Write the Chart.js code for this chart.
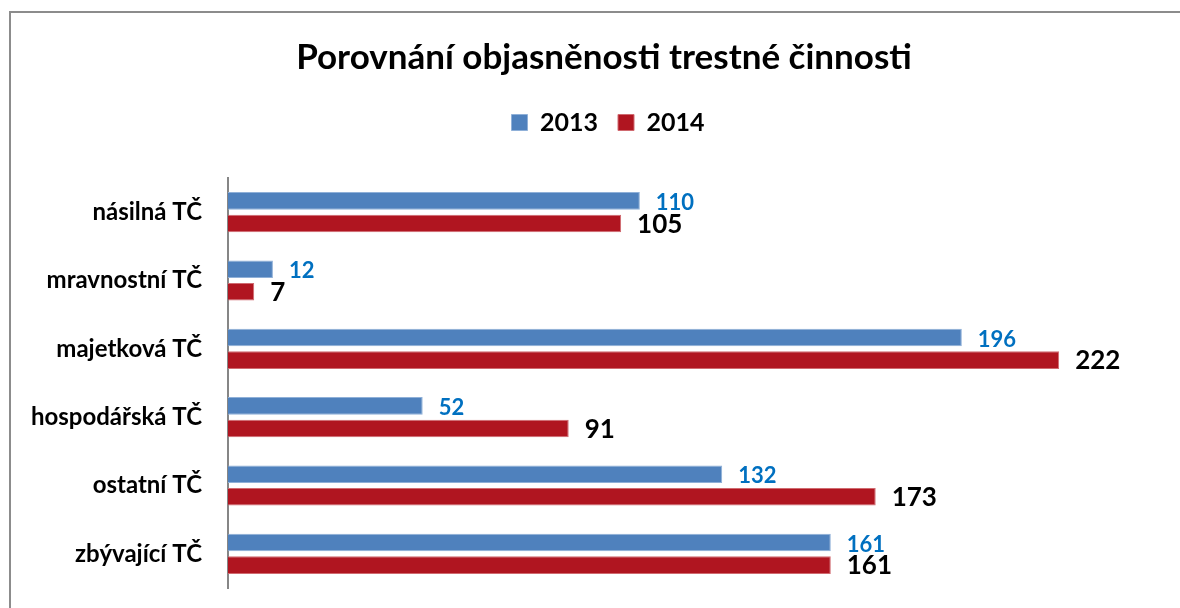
<!DOCTYPE html>
<html>
<head>
<meta charset="utf-8">
<script src="https://cdn.jsdelivr.net/npm/chart.js@4.4.1/dist/chart.umd.min.js"></script>
<style>
  html, body { margin: 0; padding: 0; background: #fff; }
  #wrap { position: relative; width: 1180px; height: 608px; }
</style>
</head>
<body>
<div id="wrap"><canvas id="c" width="1180" height="608"></canvas></div>
<script>
const categories = ['násilná TČ', 'mravnostní TČ', 'majetková TČ', 'hospodářská TČ', 'ostatní TČ', 'zbývající TČ'];
const seriesNames = ['2013', '2014'];
const values2013 = [110, 12, 196, 52, 132, 161];
const values2014 = [105, 7, 222, 91, 173, 161];
const chartTitle = 'Porovnání objasněnosti trestné činnosti';

const FONT = 'Lato, "Open Sans", sans-serif';

const frame = {
  id: 'frame',
  beforeDraw(chart) {
    const ctx = chart.ctx;
    ctx.save();
    ctx.fillStyle = '#fff';
    ctx.fillRect(0, 0, chart.width, chart.height);
    ctx.strokeStyle = '#8c8c8c';
    ctx.lineWidth = 2;
    ctx.beginPath();
    ctx.moveTo(10, chart.height + 5);
    ctx.lineTo(10, 12);
    ctx.lineTo(chart.width + 5, 12);
    ctx.stroke();
    ctx.restore();
  }
};

// extra space below the legend
const legendGap = {
  id: 'legendGap',
  beforeLayout(chart) {
    const lg = chart.legend;
    if (lg && !lg._gapPatched) {
      const orig = lg.fit;
      lg.fit = function () { orig.call(this); this.height += 33; };
      lg._gapPatched = true;
    }
  },
  afterLayout(chart) {
    // the original frame extends past the right edge, so centre title/legend on it
    const t = chart.titleBlock;
    if (t) { t.left += 16; t.right += 16; }
    const lg = chart.legend;
    if (lg) { lg.left += 20; lg.right += 20; }
  }
};

const valueLabels = {
  id: 'valueLabels',
  afterDatasetsDraw(chart) {
    const ctx = chart.ctx;
    const styles = [
      { color: '#0070C0', size: 22, dy: 2 },
      { color: '#000000', size: 26, dy: 1 }
    ];
    chart.data.datasets.forEach((ds, i) => {
      const meta = chart.getDatasetMeta(i);
      const st = styles[i];
      ctx.save();
      ctx.font = 'bold ' + st.size + 'px ' + FONT;
      ctx.fillStyle = st.color;
      ctx.textAlign = 'left';
      ctx.textBaseline = 'middle';
      meta.data.forEach((el, j) => {
        ctx.fillText(String(ds.data[j]), el.x + 16, el.y + st.dy);
      });
      ctx.restore();
    });
  }
};

new Chart(document.getElementById('c'), {
  type: 'bar',
  data: {
    labels: categories,
    datasets: [
      {
        label: seriesNames[0],
        data: values2013,
        backgroundColor: '#4F81BD',
        borderColor: '#8fb0d8',
        borderWidth: 1,
        categoryPercentage: 0.66,
        barPercentage: 0.78
      },
      {
        label: seriesNames[1],
        data: values2014,
        backgroundColor: '#B01520',
        borderColor: '#d06a70',
        borderWidth: 1,
        categoryPercentage: 0.66,
        barPercentage: 0.78
      }
    ]
  },
  options: {
    indexAxis: 'y',
    responsive: false,
    animation: false,
    devicePixelRatio: 1,
    layout: { padding: { left: 12, right: 16, top: 12, bottom: 20 } },
    scales: {
      x: {
        display: false,
        min: 0,
        max: 250
      },
      y: {
        afterFit(scale) {
          scale.width = 216;
          scale.paddingTop = 0;
          scale.paddingBottom = 0;
        },
        grid: { display: false, drawTicks: false },
        border: { display: true, color: '#868686', width: 2 },
        ticks: {
          padding: 26,
          color: '#000',
          font: { family: FONT, size: 24, weight: 'bold' }
        }
      }
    },
    plugins: {
      title: {
        display: true,
        text: chartTitle,
        color: '#000',
        font: { family: FONT, size: 35, weight: 'bold', lineHeight: 1.2 },
        padding: { top: 25, bottom: 11 }
      },
      legend: {
        display: true,
        position: 'top',
        labels: {
          color: '#000',
          boxWidth: 16,
          boxHeight: 16,
          padding: 20,
          font: { family: FONT, size: 25, weight: 'bold' }
        }
      },
      tooltip: { enabled: false }
    }
  },
  plugins: [frame, legendGap, valueLabels]
});
</script>
</body>
</html>
